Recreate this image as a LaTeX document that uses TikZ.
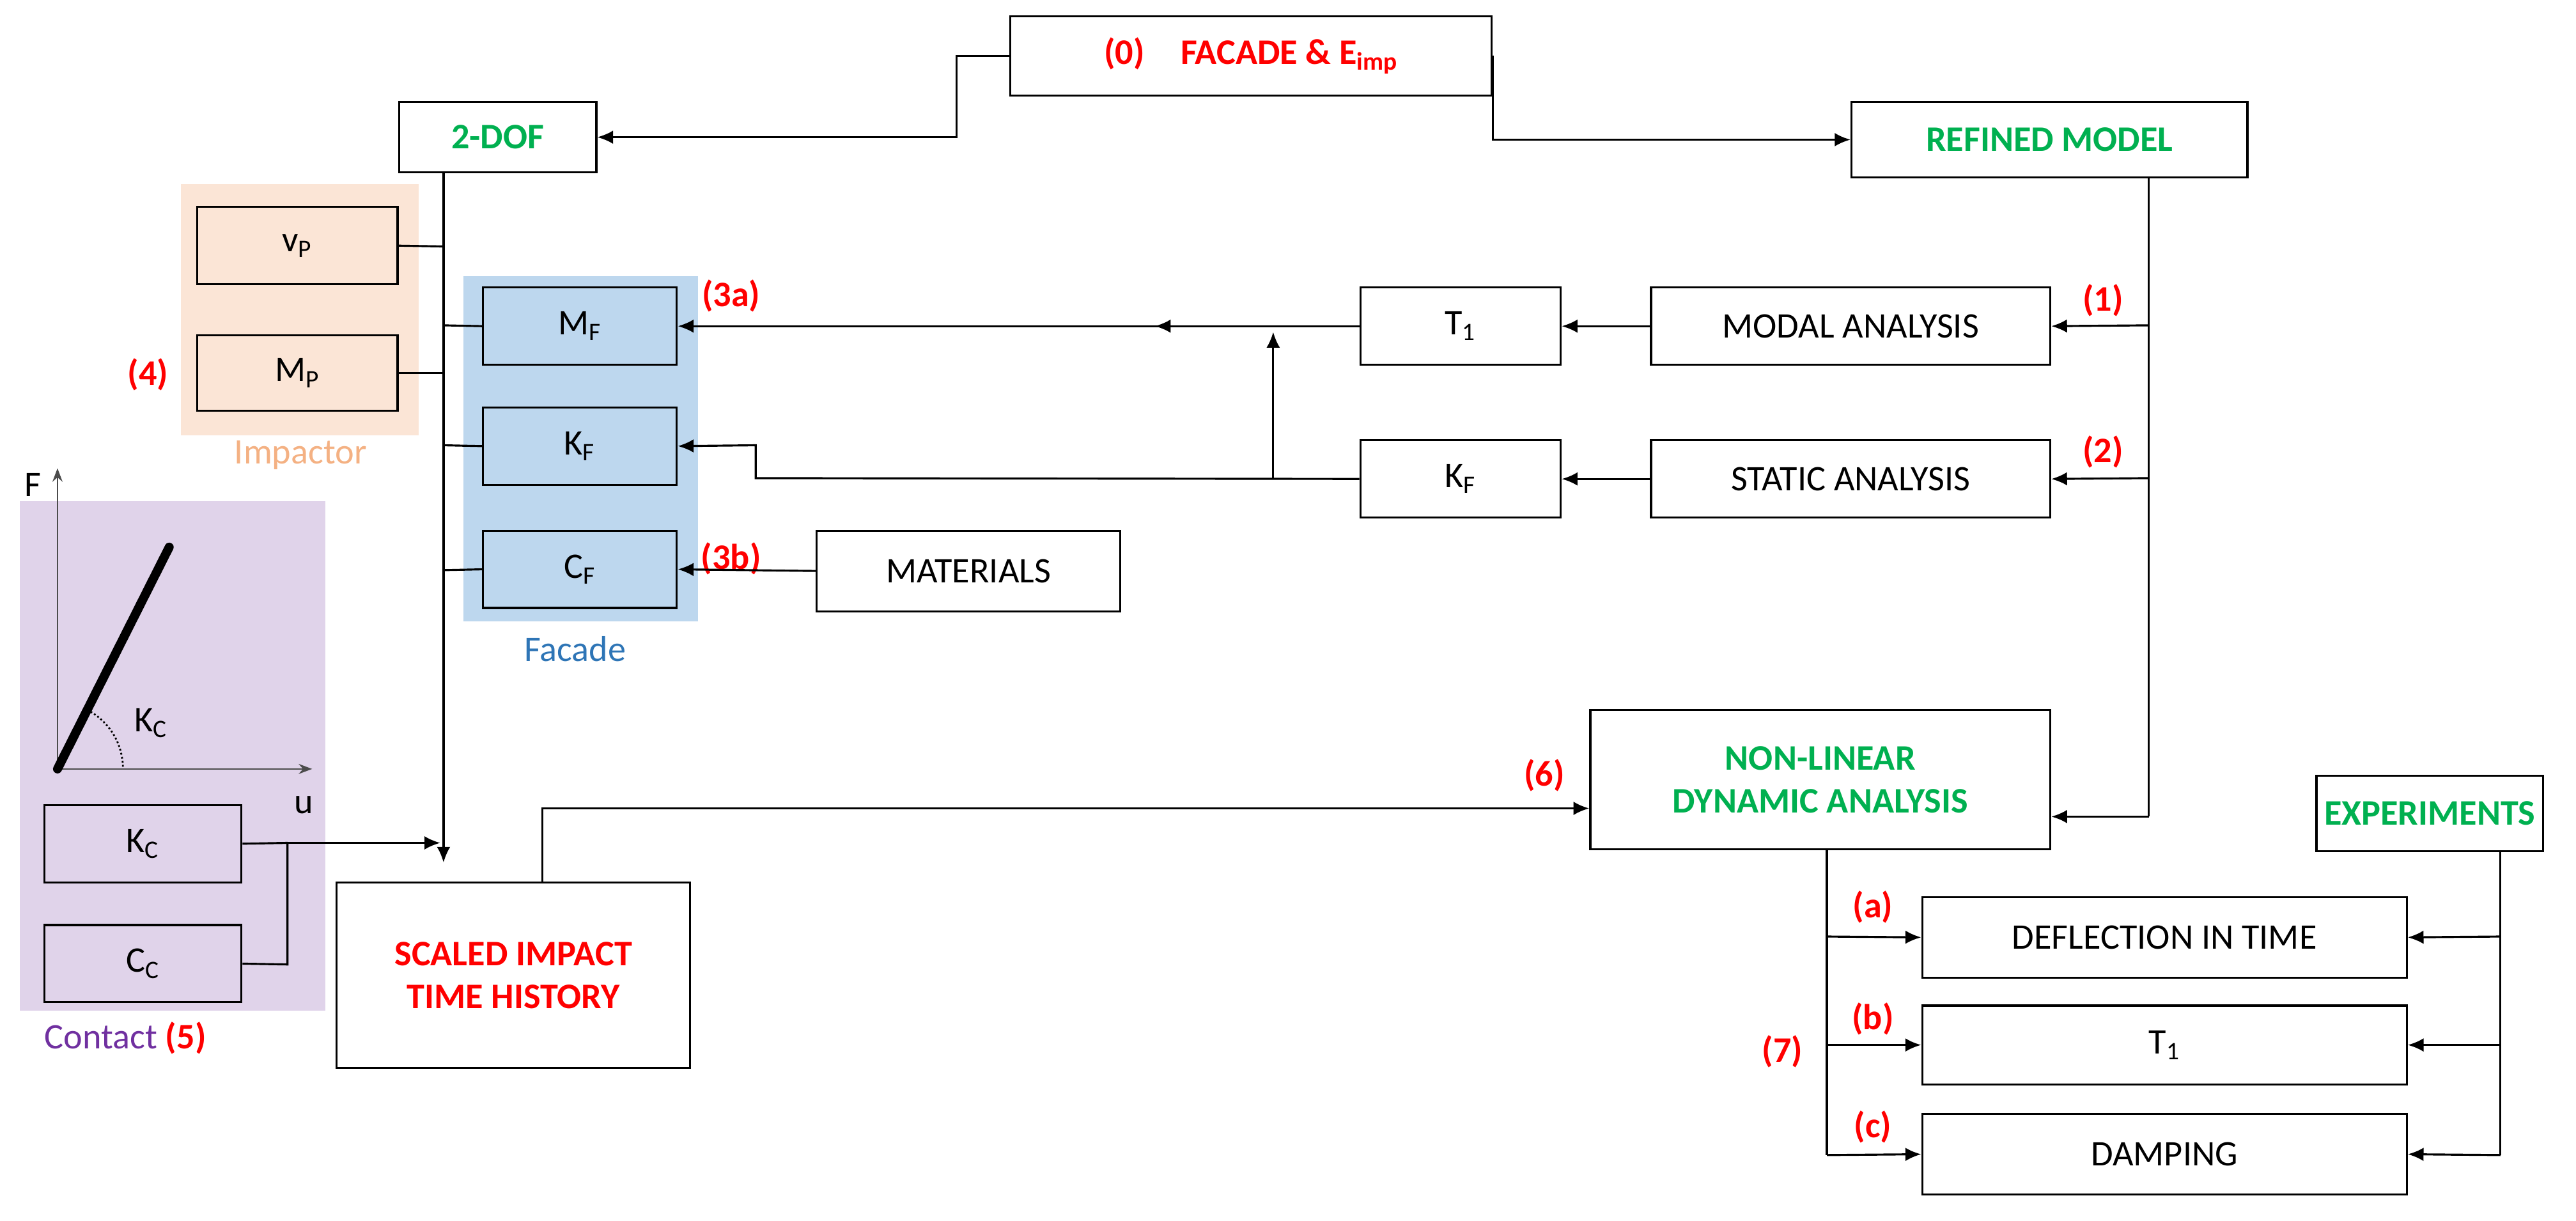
\documentclass[tikz,border=0pt]{standalone}
\usepackage{fontspec}
\setmainfont{Carlito}
\usetikzlibrary{arrows.meta,decorations.markings}
\definecolor{grn}{HTML}{00B050}
\definecolor{peach}{HTML}{FBE5D6}
\definecolor{peachT}{HTML}{F4B183}
\definecolor{lblue}{HTML}{BDD7EE}
\definecolor{blueT}{HTML}{2E75B6}
\definecolor{lpur}{HTML}{E0D3EA}
\definecolor{purT}{HTML}{7030A0}
\newcommand\bx[7][]{\node[box,#1,minimum width={(#5-#3)*0.0257cm},minimum height={(#6-#4)*0.0257cm}] (#2) at ({(#3+#5)/2},{(#4+#6)/2}) {#7};}
\begin{document}
\begin{tikzpicture}[x=0.0257cm,y=-0.0257cm,line width=0.9pt,
  box/.style={draw,fill=white,inner sep=0pt,align=center,font=\fontsize{16}{19}\selectfont},
  gb/.style={text=grn,font=\fontsize{16}{19}\selectfont\bfseries},
  rb/.style={text=red,font=\fontsize{16}{19}\selectfont\bfseries},
  lab/.style={text=red,font=\fontsize{16}{19}\selectfont\bfseries},
  arr/.style={-{Latex[length=7pt,width=6pt]}},
  mid/.style={postaction={decorate},decoration={markings,mark=at position #1 with {\arrow{Latex[length=7pt,width=6pt]}}}}]
\useasboundingbox (0,0) rectangle (1568,743);
% backgrounds
\fill[peach] (110,112) rectangle (255,265);
\fill[lblue] (282,168) rectangle (425,378);
\fill[lpur] (12,305) rectangle (198,615);
\node[text=peachT,font=\fontsize{16}{19}\selectfont] (impl) at (183,277) {Impactor};
\node[text=blueT,font=\fontsize{16}{19}\selectfont] (facl) at (350,395) {Facade};
\node[font=\fontsize{16}{19}\selectfont,anchor=west] (conl) at (22,632) {\textcolor{purT}{Contact} \textcolor{red}{\bfseries(5)}};
% boxes
\bx[rb]{fac}{615}{10}{908}{58}{(0)\quad FACADE \& E\textsubscript{imp}}
\bx[gb]{dof}{243}{62}{363}{105}{2-DOF}
\bx[gb]{ref}{1127}{62}{1368}{108}{REFINED MODEL}
\bx[fill=peach]{vp}{120}{126}{242}{173}{v\textsubscript{P}}
\bx[fill=peach]{mp}{120}{204}{242}{250}{M\textsubscript{P}}
\bx[fill=lblue]{mf}{294}{175}{412}{222}{M\textsubscript{F}}
\bx[fill=lblue]{kf}{294}{248}{412}{295}{K\textsubscript{F}}
\bx[fill=lblue]{cf}{294}{323}{412}{370}{C\textsubscript{F}}
\bx{ta}{828}{175}{950}{222}{T\textsubscript{1}}
\bx{modal}{1005}{175}{1248}{222}{MODAL ANALYSIS}
\bx{kfb}{828}{268}{950}{315}{K\textsubscript{F}}
\bx{static}{1005}{268}{1248}{315}{STATIC ANALYSIS}
\bx{mat}{497}{323}{682}{372}{MATERIALS}
\bx[fill=lpur]{kc}{27}{490}{147}{537}{K\textsubscript{C}}
\bx[fill=lpur]{cc}{27}{563}{147}{610}{C\textsubscript{C}}
\bx[rb]{sc}{205}{537}{420}{650}{SCALED IMPACT\\TIME HISTORY}
\bx[gb]{nl}{968}{432}{1248}{517}{NON-LINEAR\\DYNAMIC ANALYSIS}
\bx[gb]{exp}{1410}{472}{1548}{518}{EXPERIMENTS}
\bx{defl}{1170}{546}{1465}{595}{DEFLECTION IN TIME}
\bx{tb}{1170}{612}{1465}{660}{T\textsubscript{1}}
\bx{damp}{1170}{678}{1465}{727}{DAMPING}
% labels
\node[lab] (l4) at (90,228) {(4)};
\node[lab] (l3a) at (445,180) {(3a)};
\node[lab] (l3b) at (445,340) {(3b)};
\node[lab] (l1) at (1280,183) {(1)};
\node[lab] (l2) at (1280,275) {(2)};
\node[lab] (l6) at (940,472) {(6)};
\node[lab] (la) at (1140,552) {(a)};
\node[lab] (lb) at (1140,620) {(b)};
\node[lab] (lc) at (1140,686) {(c)};
\node[lab] (l7) at (1085,640) {(7)};
% graph
\coordinate (o) at (35,468);
\draw[-{Stealth[length=6pt]},line width=0.6pt,gray!60!black] (o) -- (35,285);
\draw[-{Stealth[length=6pt]},line width=0.6pt,gray!60!black] (o) -- (190,468);
\draw[line width=4pt,line cap=round] (o) -- (103,333);
\draw[densely dotted,line width=0.8pt] (53,432) arc[start angle=-63,end angle=0,radius=40];
\node[font=\fontsize{16}{19}\selectfont] (F) at (20,295) {F};
\node[font=\fontsize{16}{19}\selectfont] (u) at (185,490) {u};
\node[font=\fontsize{16}{19}\selectfont] (kcl) at (92,440) {K\textsubscript{C}};
% connectors
\draw[arr] (fac.west) -- ++(-32,0) |- (dof.east);
\draw[arr] (fac.east) |- (ref.west);
\draw[arr] (dof.south -| 270,0) -- (270,525);
\draw (vp.east) -- (270,150);
\draw (mp.east) -- (270,227);
\draw (270,198) -- (mf.west);
\draw (270,271) -- (kf.west);
\draw (270,347) -- (cf.west);
\draw (ref.south -| 1308,0) -- (1308,497);
\draw[arr] (1308,497) -- (nl.east |- 0,497);
\draw[arr] (1308,198) -- (modal.east);
\draw[arr] (1308,291) -- (static.east);
\draw[arr] (modal.west) -- (ta.east);
\draw[arr] (static.west) -- (kfb.east);
\draw[arr,mid=0.3] (ta.west) -- (mf.east);
\draw[arr] (kfb.west) -- (460,291) -- (460,271) -- (kf.east);
\draw[arr] (775,291) -- (775,202);
\draw[arr] (mat.west) -- (cf.east);
\draw (kc.east) -- (175,513);
\draw (cc.east) -- (175,587) -- (175,513);
\draw[arr] (175,513) -- (268,513);
\draw[arr] (sc.north -| 330,0) -- (330,492) -- (nl.west |- 0,492);
\draw (nl.south -| 1112,0) -- (1112,703);
\draw[arr] (1112,570) -- (defl.west);
\draw[arr] (1112,636) -- (tb.west);
\draw[arr] (1112,703) -- (damp.west);
\draw (exp.south -| 1522,0) -- (1522,703);
\draw[arr] (1522,570) -- (defl.east);
\draw[arr] (1522,636) -- (tb.east);
\draw[arr] (1522,703) -- (damp.east);
\end{tikzpicture}
\end{document}
